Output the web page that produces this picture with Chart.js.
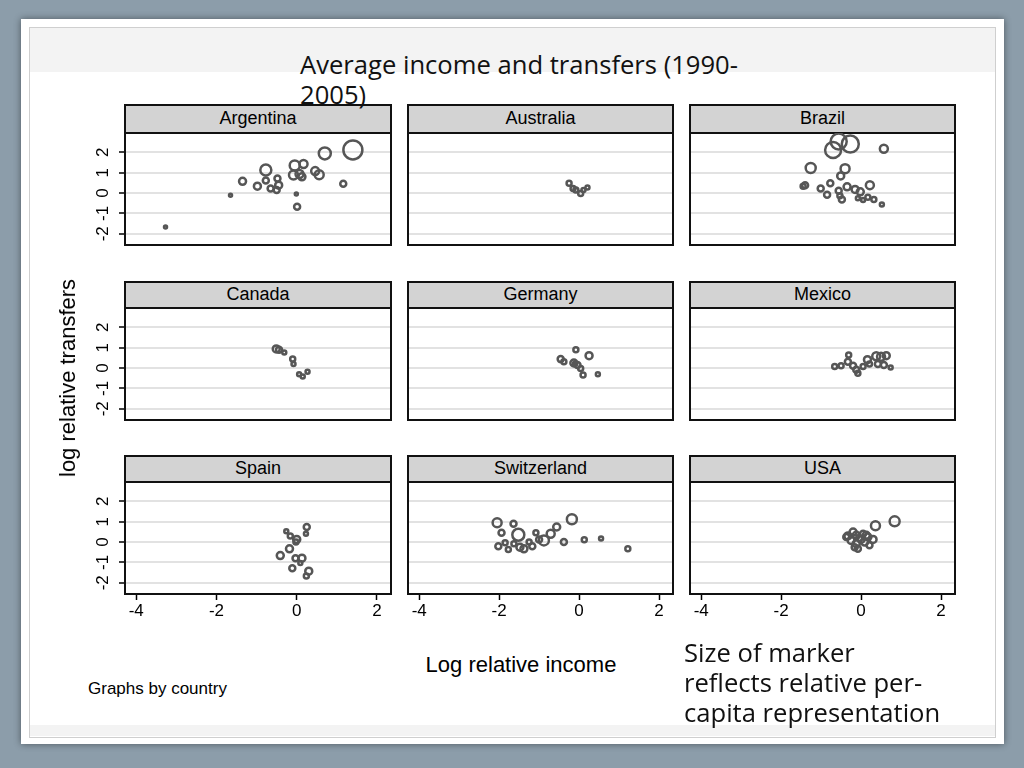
<!DOCTYPE html>
<html><head><meta charset="utf-8">
<script src="https://cdn.jsdelivr.net/npm/chart.js@4"></script>
<style>
body{margin:0;width:1024px;height:768px;background:#8c9daa;position:relative;overflow:hidden;font-family:"Liberation Sans",Arial,sans-serif;}
#slide{position:absolute;left:21px;top:19px;width:983px;height:725px;background:#fff;box-shadow:0 0 7px rgba(0,0,0,.45);}
#frame{position:absolute;left:29px;top:27px;width:965px;height:709px;border:1px solid #cfcfcf;}
#topband{position:absolute;left:30px;top:28px;width:965px;height:44px;background:#f3f3f3;}
#botband{position:absolute;left:30px;top:725px;width:965px;height:11px;background:#f3f3f3;}
.hdr{position:absolute;background:#d3d3d3;border:2px solid #111;box-sizing:border-box;text-align:center;font-size:18px;color:#000;}
.cv{position:absolute;}
.txt{position:absolute;font-family:"Open Sans","Noto Sans",sans-serif;font-size:25.6px;line-height:30px;color:#111;white-space:nowrap;}
.lab{position:absolute;color:#000;white-space:nowrap;}
</style></head>
<body>
<div id="slide"></div>
<div id="frame"></div>
<div id="topband"></div>
<div id="botband"></div>
<div id="panels"></div>
<div class="lab" style="left:68px;top:378px;font-size:22px;transform:translate(-50%,-50%) rotate(-90deg);">log relative transfers</div>
<div class="lab" style="left:521px;top:665px;font-size:22px;transform:translate(-50%,-50%);">Log relative income</div>
<div class="lab" style="left:88px;top:689px;font-size:17px;transform:translateY(-50%);">Graphs by country</div>
<div class="txt" style="left:300px;top:50px;">Average income and transfers (1990-<br>2005)</div>
<div class="txt" style="left:684px;top:638px;">Size of marker<br>reflects relative per-<br>capita representation</div>
<script>
// ---- data: [log relative income, log relative transfers, marker size] ----
const countries = ['Argentina','Australia','Brazil','Canada','Germany','Mexico','Spain','Switzerland','USA'];
const xTicks = [-4,-2,0,2];
const yTicks = [-2,-1,0,1,2];
const argentina = [[-3.27,-1.67,1.5],[-1.65,-0.11,1.5],[-1.35,0.58,3.5],[-0.98,0.34,3.5],[-0.77,1.13,5.5],[-0.77,0.62,3],[-0.65,0.23,3],[-0.48,0.72,3],[-0.45,0.39,3.5],[-0.5,0.15,3],[-0.05,1.36,5],[-0.08,0.89,4.5],[0.07,0.94,4],[0.13,0.8,3.5],[0.17,1.43,4],[-0.01,-0.05,1.5],[0.01,-0.67,3],[0.46,1.08,4],[0.56,0.9,4.5],[0.7,1.95,6],[1.16,0.46,3],[1.4,2.12,9.5]];
const australia = [[-0.25,0.48,2.5],[-0.15,0.23,2.5],[-0.08,0.15,2.5],[0.04,-0.02,2.5],[0.11,0.15,2],[0.21,0.28,2]];
const brazil = [[-0.7,2.12,8],[-0.56,2.53,8],[-0.27,2.41,8.5],[0.57,2.18,4],[-1.26,1.23,5],[-0.4,1.2,4.5],[-0.51,0.84,3.5],[-1.4,0.38,3],[-1.45,0.34,2.5],[-1.01,0.23,3],[-0.77,0.48,3],[-0.85,-0.08,3],[-0.56,0.11,3],[-0.53,-0.13,2.5],[-0.48,-0.31,3],[-0.35,0.31,3.5],[-0.15,0.18,3.5],[-0.02,0.06,3.5],[0.22,0.39,4],[-0.08,-0.26,2],[0.05,-0.34,2],[0.17,-0.21,2.5],[0.32,-0.31,2.5],[0.52,-0.56,2]];
const canada = [[-0.51,0.94,3.5],[-0.44,0.9,3],[-0.31,0.77,2],[-0.1,0.44,2.5],[-0.08,0.2,2],[0.06,-0.3,2],[0.15,-0.41,2],[0.27,-0.18,2]];
const germany = [[-0.08,0.9,2.5],[0.25,0.61,3.5],[-0.46,0.44,3],[-0.38,0.31,2.5],[-0.13,0.25,3.5],[-0.1,0.22,2],[-0.04,0.15,3],[0.04,-0.02,2.5],[0.1,-0.34,2.5],[0.47,-0.3,2]];
const mexico = [[-0.66,0.08,2.5],[-0.5,0.11,2.5],[-0.31,0.64,2.5],[-0.33,0.31,3],[-0.2,0.11,3],[-0.12,-0.08,3],[-0.08,-0.25,2.5],[0.05,0.08,2.5],[0.16,0.41,3.5],[0.21,0.2,2.5],[0.38,0.58,4],[0.5,0.56,4],[0.63,0.61,3.5],[0.42,0.2,3],[0.57,0.15,3],[0.74,0.03,2]];
const spain = [[-0.26,0.53,2],[-0.16,0.3,2.5],[0.25,0.74,3],[0.23,0.41,2],[0.0,0.13,3.5],[-0.02,0.0,2.5],[-0.18,-0.33,3.5],[-0.41,-0.66,3.5],[-0.03,-0.79,3],[0.13,-0.79,3.5],[0.09,-1.03,2],[-0.11,-1.28,3],[0.3,-1.43,3.5],[0.24,-1.67,2.5]];
const switzerland = [[-2.05,0.95,4.5],[-1.64,0.9,3],[-0.18,1.12,5],[-0.56,0.74,3.5],[-0.71,0.41,4],[-1.94,0.46,3],[-1.52,0.36,6],[-1.08,0.46,2.5],[-0.88,0.08,5],[-1.0,0.13,3],[-2.02,-0.21,3],[-1.85,-0.03,2.5],[-1.77,-0.36,2.5],[-1.63,-0.08,2.5],[-1.48,-0.25,3.5],[-1.38,-0.33,3.5],[-1.25,0.0,2.5],[-1.17,-0.2,3],[-0.38,0.0,3],[0.13,0.12,2.5],[0.55,0.18,2],[1.22,-0.33,2.5]];
const usa = [[0.84,1.02,5],[0.36,0.8,4.5],[-0.33,0.3,3.5],[-0.2,0.49,3.5],[-0.12,0.33,3.5],[-0.25,0.08,3.5],[-0.12,-0.08,3.5],[-0.08,-0.33,3],[0,0.13,3.5],[0.09,0,3.5],[0.17,0.25,3.5],[0.3,0.13,3.5],[0.21,-0.16,3],[0.13,0.33,3.5],[-0.37,0.25,3],[-0.16,-0.25,3],[0.05,0.41,3],[-0.05,0.2,3]];
const seriesList = [argentina,australia,brazil,canada,germany,mexico,spain,switzerland,usa];

// ---- layout ----
const colLeft=[125,408,690], colW=[266,265,265];
const rowTop=[132,307,481], rowH=113, hdrTop=[104,281,455];
const PADL=50, PADR=4, PADB=32, XAXH=26;

const frameAndLabels = {
  id:'frameAndLabels',
  afterDraw(chart){
    const ctx=chart.ctx, ca=chart.chartArea, o=chart.options.plugins.frameAndLabels;
    ctx.save();
    if(o.yLabels){
      const ys=chart.scales.y;
      ctx.fillStyle='#000';
      ctx.font='17px "Liberation Sans", Arial, sans-serif';
      ctx.textAlign='center'; ctx.textBaseline='middle';
      yTicks.forEach(v=>{
        const py=ys.getPixelForValue(v);
        ctx.save(); ctx.translate(ca.left-22,py); ctx.rotate(-Math.PI/2);
        ctx.fillText(String(v),0,0); ctx.restore();
      });
    }
    ctx.strokeStyle='#111'; ctx.lineWidth=2;
    ctx.strokeRect(ca.left,ca.top,ca.right-ca.left,ca.bottom-ca.top);
    ctx.restore();
  }
};

const host=document.getElementById('panels');
countries.forEach((name,i)=>{
  const row=Math.floor(i/3), col=i%3;
  const L=colLeft[col], W=colW[col], T=rowTop[row];
  const h=document.createElement('div');
  h.className='hdr';
  h.style.left=(L-1)+'px'; h.style.top=hdrTop[row]+'px';
  h.style.width=(W+2)+'px'; h.style.height=(T-hdrTop[row]+2)+'px';
  h.style.lineHeight=(T-hdrTop[row]-3)+'px';
  h.textContent=name;
  host.appendChild(h);
  const wrap=document.createElement('div');
  wrap.className='cv';
  const cw=W+PADL+PADR, ch=rowH+PADB;
  wrap.style.left=(L-PADL)+'px'; wrap.style.top=T+'px';
  wrap.style.width=cw+'px'; wrap.style.height=ch+'px';
  const c=document.createElement('canvas');
  c.width=cw; c.height=ch; c.style.width=cw+'px'; c.style.height=ch+'px';
  wrap.appendChild(c); host.appendChild(wrap);
  const showX = row===2;
  new Chart(c,{
    type:'bubble',
    data:{datasets:[{
      data:seriesList[i].map(p=>({x:p[0],y:p[1],r:p[2]})),
      backgroundColor:'rgba(0,0,0,0)',
      borderColor:'#565656',
      borderWidth:2.5
    }]},
    options:{
      responsive:false, animation:false, events:[],
      layout:{autoPadding:false,padding:{left:PADL,right:PADR,top:0,bottom:showX?PADB-XAXH:PADB}},
      plugins:{legend:{display:false},tooltip:{enabled:false},
        frameAndLabels:{yLabels:col===0}},
      scales:{
        x:{type:'linear',min:-4.28,max:2.35,display:showX,
          afterBuildTicks:s=>{s.ticks=xTicks.map(v=>({value:v}));},
          afterFit:s=>{s.height=showX?XAXH:0;},
          grid:{display:true,drawOnChartArea:false,drawTicks:true,tickLength:6,tickColor:'#000',tickWidth:1.5,color:'#000'},
          border:{display:false},
          ticks:{color:'#000',font:{family:'"Liberation Sans", Arial, sans-serif',size:17},padding:1,maxRotation:0,autoSkip:false}
        },
        y:{type:'linear',min:-2.55,max:3.0,
          afterBuildTicks:s=>{s.ticks=yTicks.map(v=>({value:v}));},
          afterFit:s=>{s.width=0;},
          grid:{color:'#e2e2e2',lineWidth:2,drawTicks:col===0,tickLength:6,tickColor:'#000',tickWidth:1.5},
          border:{display:false},
          ticks:{display:false}
        }
      }
    },
    plugins:[frameAndLabels]
  });
});
</script>
</body></html>
